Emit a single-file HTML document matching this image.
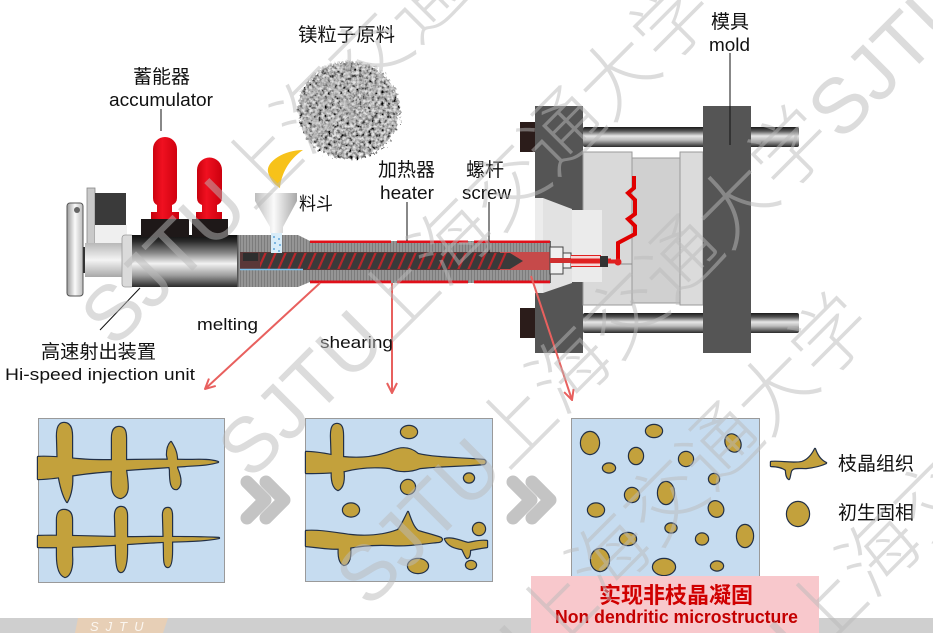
<!DOCTYPE html>
<html><head><meta charset="utf-8"><style>
html,body{margin:0;padding:0;background:#fff;width:933px;height:633px;overflow:hidden;}
svg{display:block;}
text{font-family:"Liberation Sans","Noto Sans CJK SC",sans-serif;}
</style></head><body>
<svg width="933" height="633" viewBox="0 0 933 633" xmlns="http://www.w3.org/2000/svg">
<defs>
 <linearGradient id="chrome" x1="0" y1="0" x2="0" y2="1">
  <stop offset="0" stop-color="#0e0e0e"/><stop offset="0.12" stop-color="#2a2a2a"/><stop offset="0.35" stop-color="#8a8a8a"/><stop offset="0.55" stop-color="#f2f2f2"/><stop offset="0.78" stop-color="#9c9c9c"/><stop offset="1" stop-color="#2a2a2a"/>
 </linearGradient>
 <linearGradient id="rod" x1="0" y1="0" x2="0" y2="1">
  <stop offset="0" stop-color="#1a1a1a"/><stop offset="0.2" stop-color="#555"/><stop offset="0.45" stop-color="#e6e6e6"/><stop offset="0.65" stop-color="#bdbdbd"/><stop offset="1" stop-color="#2a2a2a"/>
 </linearGradient>
 <linearGradient id="red" x1="0" y1="0" x2="1" y2="0">
  <stop offset="0" stop-color="#c4000c"/><stop offset="0.4" stop-color="#f01020"/><stop offset="1" stop-color="#cc000e"/>
 </linearGradient>
 <linearGradient id="funnel" x1="0" y1="0" x2="1" y2="0">
  <stop offset="0" stop-color="#bdbdbd"/><stop offset="0.45" stop-color="#fafafa"/><stop offset="1" stop-color="#a8a8a8"/>
 </linearGradient>
 <linearGradient id="lgray" x1="0" y1="0" x2="0" y2="1">
  <stop offset="0" stop-color="#b8b8b8"/><stop offset="0.5" stop-color="#f4f4f4"/><stop offset="1" stop-color="#a8a8a8"/>
 </linearGradient>
 <linearGradient id="flange" x1="0" y1="0" x2="1" y2="0">
  <stop offset="0" stop-color="#9a9a9a"/><stop offset="0.5" stop-color="#fafafa"/><stop offset="1" stop-color="#bbb"/>
 </linearGradient>
 <pattern id="vl" width="3" height="10" patternUnits="userSpaceOnUse">
  <rect width="3" height="10" fill="#959595"/><rect width="1" height="10" fill="#7c7c7c"/>
 </pattern>
 <clipPath id="screwclip"><polygon points="260,253 510,253 523,261 510,269 260,269"/></clipPath>
 <clipPath id="frame"><rect x="0" y="0" width="933" height="633"/></clipPath>
 <filter id="tex" x="-10%" y="-10%" width="120%" height="120%">
   <feTurbulence type="fractalNoise" baseFrequency="0.32" numOctaves="3" seed="7" result="n"/>
   <feDisplacementMap in="SourceGraphic" in2="n" scale="10" xChannelSelector="R" yChannelSelector="G" result="d"/>
   <feColorMatrix in="n" type="saturate" values="0" result="g"/>
   <feComponentTransfer in="g" result="g2">
     <feFuncR type="linear" slope="2.8" intercept="-0.85"/>
     <feFuncG type="linear" slope="2.8" intercept="-0.85"/>
     <feFuncB type="linear" slope="2.8" intercept="-0.85"/>
     <feFuncA type="linear" slope="0" intercept="1"/>
   </feComponentTransfer>
   <feBlend in="d" in2="g2" mode="multiply" result="b"/>
   <feComposite in="b" in2="d" operator="in"/>
 </filter>
 <marker id="ah" viewBox="0 0 12 12" refX="11" refY="6" markerWidth="12" markerHeight="12" orient="auto" markerUnits="userSpaceOnUse">
  <path d="M1,1 L11,6 L1,11" fill="none" stroke="#e8605e" stroke-width="2"/>
 </marker>
</defs>

<rect width="933" height="633" fill="#fff"/>

<!-- ===== Injection unit (left) ===== -->
<rect x="67" y="203" width="16" height="93" rx="3" fill="url(#flange)" stroke="#555" stroke-width="1"/>
<circle cx="77" cy="210" r="3" fill="#666"/>
<rect x="83" y="247" width="4" height="26" fill="#333"/>
<rect x="87" y="188" width="8" height="57" fill="#c9c9c9" stroke="#888" stroke-width="0.8"/>
<rect x="95" y="193" width="31" height="32" fill="#3a3a3a"/>
<rect x="95" y="225" width="32" height="18" fill="#efefef"/>
<rect x="85" y="243" width="48" height="34" fill="url(#lgray)"/>
<rect x="122" y="235" width="12" height="52" rx="3" fill="#dadada" stroke="#999" stroke-width="0.8"/>
<rect x="132" y="235" width="105" height="52" fill="url(#chrome)"/>
<rect x="141" y="219" width="48" height="18" fill="#1e1818"/>
<rect x="192" y="219" width="36" height="18" fill="#1e1818"/>
<path d="M153,149 A12,12 0 0 1 177,149 L177,198 Q177,203 172,205 L172,212 L179,212 L179,219 L151,219 L151,212 L157,212 L157,205 Q153,203 153,198 Z" fill="url(#red)"/>
<path d="M197,170 A12.5,12.5 0 0 1 222,170 L222,198 Q222,203 217,205 L217,212 L222,212 L222,219 L196,219 L196,212 L202,212 L202,205 Q197,203 197,198 Z" fill="url(#red)"/>

<!-- hopper -->
<path d="M255,193 L297,193 L297,201 L283,227 L283,233 L270,233 L270,227 L255,201 Z" fill="url(#funnel)"/>
<path d="M303,150 C285,150 266,161 268,172 C270,180 275,185 280,188 C281,175 288,160 303,150 Z" fill="#f7c21a"/>

<!-- Mg granules -->
<ellipse cx="349" cy="110" rx="51" ry="49" fill="#e4e4e4" filter="url(#tex)"/>

<!-- ===== Clamp / mold (right) ===== -->
<rect x="520" y="122" width="15" height="30" fill="#2b1c1a"/>
<rect x="520" y="308" width="15" height="30" fill="#2b1c1a"/>
<rect x="535" y="106" width="48" height="247" fill="#555"/>
<polygon points="535,198 543,198 572,209 572,283 543,293 535,293" fill="#e2e2e2"/>
<rect x="535" y="198" width="8" height="95" fill="#ececec"/>
<rect x="583" y="127" width="216" height="20" rx="2" fill="url(#rod)"/>
<rect x="583" y="313" width="216" height="20" rx="2" fill="url(#rod)"/>
<rect x="583" y="152" width="49" height="153" fill="#d9d9d9" stroke="#9a9a9a" stroke-width="1"/>
<rect x="632" y="158" width="48" height="145" fill="#d0d0d0" stroke="#9a9a9a" stroke-width="1"/>
<rect x="680" y="152" width="23" height="153" fill="#dbdbdb" stroke="#9a9a9a" stroke-width="1"/>
<line x1="617" y1="264" x2="632" y2="264" stroke="#8a8a8a" stroke-width="1"/>
<rect x="572" y="210" width="30" height="72" fill="#ebebeb"/>
<rect x="703" y="106" width="48" height="247" fill="#555"/>
<polyline points="634,176 634,188 628,193 635,200 635,214 628,219 635,226 635,234 618,243 618,262" fill="none" stroke="#e00000" stroke-width="4" stroke-linejoin="miter"/>

<!-- ===== Barrel ===== -->
<polygon points="237,235 298,235 310,241 310,282 298,287 237,287" fill="url(#vl)"/>
<rect x="237" y="235" width="1.5" height="52" fill="#555"/>
<rect x="310" y="241" width="240" height="42" fill="url(#vl)"/>
<rect x="550" y="241" width="1" height="42" fill="#666"/>
<g fill="#e0101a">
 <rect x="310" y="240.5" width="81" height="2.5"/><rect x="397" y="240.5" width="71" height="2.5"/><rect x="474" y="240.5" width="76" height="2.5"/>
 <rect x="310" y="280.5" width="81" height="2.8"/><rect x="397" y="280.5" width="71" height="2.8"/><rect x="474" y="280.5" width="76" height="2.8"/>
</g>
<rect x="240" y="252" width="310" height="18" fill="#5a3838"/>
<rect x="500" y="252" width="50" height="18" fill="#c64a4a"/>
<polygon points="260,253 510,253 523,261 510,269 260,269" fill="#3a3a3a"/>
<g clip-path="url(#screwclip)" stroke="#b8282c" stroke-width="2.2">
 <path d="M258,270 L266,252 M268,270 L276,252 M278,270 L286,252 M288,270 L296,252 M298,270 L306,252 M308,270 L316,252 M318,270 L326,252 M328,270 L336,252 M338,270 L346,252 M348,270 L356,252 M358,270 L366,252 M368,270 L376,252 M378,270 L386,252 M388,270 L396,252 M398,270 L406,252 M408,270 L416,252 M418,270 L426,252 M428,270 L436,252 M438,270 L446,252 M448,270 L456,252 M458,270 L466,252 M468,270 L476,252 M478,270 L486,252 M488,270 L496,252 M498,270 L506,252"/>
</g>
<rect x="243" y="253" width="15" height="8" fill="#2e2e2e"/>
<line x1="240" y1="269.5" x2="303" y2="269.5" stroke="#7cc0ea" stroke-width="1.5"/>
<rect x="271" y="233" width="11" height="20" fill="#d8ecf8"/>
<g fill="#3a90d0"><circle cx="274" cy="237" r="0.9"/><circle cx="279" cy="239" r="0.9"/><circle cx="275" cy="243" r="0.9"/><circle cx="280" cy="245" r="0.9"/><circle cx="274" cy="249" r="0.9"/><circle cx="279" cy="251" r="0.9"/></g>

<!-- nozzle & runner -->
<rect x="550" y="247" width="13" height="27" fill="#f0f0f0" stroke="#444" stroke-width="1"/>
<rect x="563" y="253" width="8" height="15" fill="#f0f0f0" stroke="#444" stroke-width="1"/>
<rect x="550" y="258" width="21" height="5" fill="#d03030"/>
<rect x="571" y="255" width="30" height="12" fill="#f6d6d6"/>
<line x1="571" y1="255.5" x2="601" y2="255.5" stroke="#e02020" stroke-width="1"/>
<line x1="571" y1="266.5" x2="601" y2="266.5" stroke="#e02020" stroke-width="1"/>
<rect x="571" y="258.5" width="40" height="5" fill="#e02020"/>
<rect x="600" y="256" width="8" height="11" fill="#333"/>
<line x1="608" y1="261.5" x2="618" y2="261.5" stroke="#e02020" stroke-width="4"/>
<circle cx="618" cy="262" r="3.5" fill="#e02020"/>

<!-- leader lines -->
<g stroke="#111" stroke-width="1">
 <line x1="161" y1="109" x2="161" y2="131"/>
 <line x1="407" y1="202" x2="407" y2="241"/>
 <line x1="489" y1="202" x2="489" y2="253"/>
 <line x1="730" y1="53" x2="730" y2="145"/>
 <line x1="140" y1="288" x2="100" y2="330"/>
</g>

<!-- red arrows -->
<g stroke="#e8605e" stroke-width="2" fill="none" marker-end="url(#ah)">
 <line x1="320" y1="283" x2="205" y2="389"/>
 <line x1="392" y1="283" x2="392" y2="393"/>
 <line x1="531" y1="276" x2="572" y2="400"/>
</g>

<!-- labels -->
<g fill="#111">
 <text x="298" y="41" font-size="19" textLength="97" lengthAdjust="spacingAndGlyphs">镁粒子原料</text>
 <text x="133" y="83" font-size="19" textLength="57" lengthAdjust="spacingAndGlyphs">蓄能器</text>
 <text x="109" y="106" font-size="18" textLength="104" lengthAdjust="spacingAndGlyphs">accumulator</text>
 <text x="299" y="210" font-size="18" textLength="34" lengthAdjust="spacingAndGlyphs">料斗</text>
 <text x="378" y="176" font-size="19" textLength="57" lengthAdjust="spacingAndGlyphs">加热器</text>
 <text x="380" y="199" font-size="18" textLength="54" lengthAdjust="spacingAndGlyphs">heater</text>
 <text x="466" y="176" font-size="19" textLength="38" lengthAdjust="spacingAndGlyphs">螺杆</text>
 <text x="462" y="199" font-size="18" textLength="49" lengthAdjust="spacingAndGlyphs">screw</text>
 <text x="711" y="28" font-size="19" textLength="38" lengthAdjust="spacingAndGlyphs">模具</text>
 <text x="709" y="51" font-size="18" textLength="41" lengthAdjust="spacingAndGlyphs">mold</text>
 <text x="197" y="330" font-size="17" textLength="61" lengthAdjust="spacingAndGlyphs">melting</text>
 <text x="320" y="348" font-size="17" textLength="73" lengthAdjust="spacingAndGlyphs">shearing</text>
 <text x="41" y="358" font-size="19" textLength="115" lengthAdjust="spacingAndGlyphs">高速射出装置</text>
 <text x="5" y="380" font-size="17" textLength="190" lengthAdjust="spacingAndGlyphs">Hi-speed injection unit</text>
 <text x="838" y="470" font-size="19" textLength="76" lengthAdjust="spacingAndGlyphs">枝晶组织</text>
 <text x="838" y="519" font-size="19" textLength="76" lengthAdjust="spacingAndGlyphs">初生固相</text>
</g>

<!-- ===== Microstructure boxes ===== -->
<rect x="38.5" y="418.5" width="186" height="164" fill="#c6dcf0" stroke="#9a9a9a" stroke-width="1"/>
<rect x="305.5" y="418.5" width="187" height="163" fill="#c6dcf0" stroke="#9a9a9a" stroke-width="1"/>
<rect x="571.5" y="418.5" width="188" height="164" fill="#c6dcf0" stroke="#9a9a9a" stroke-width="1"/>

<g fill="#223047" stroke="#223047" stroke-width="2.4" stroke-linejoin="round">
 <path d="M38,457 C55,456 70,459 90,460 C120,461 150,459 185,460 C198,460 208,459 218,462 C208,465 198,465 185,466 C150,468 125,470 100,472 C75,474 55,479 38,479 Z"/>
 <path d="M57,436 C57,426 60,423 64,423 C69,423 72,427 72,436 L72,472 C73,485 71,495 67,502 C63,496 60,485 58,472 Z"/>
 <path d="M112,438 C112,430 115,427 119,427 C124,427 126,430 126,438 L126,470 C128,485 130,495 121,498 C112,497 111,488 112,470 Z"/>
 <path d="M167,455 C167,448 169,444 171,442 C174,447 177,452 177,460 L177,468 C180,475 183,485 177,489 C171,490 170,482 170,470 Z"/>
 <path d="M38,536 C70,535 110,538 150,537 C180,537 200,537 219,538 C205,541 185,541 160,542 C120,544 80,548 38,547 Z"/>
 <path d="M57,520 C57,512 60,510 64,510 C69,510 72,513 72,520 L72,555 C73,568 70,576 65,577 C59,575 57,566 57,555 Z"/>
 <path d="M115,516 C115,509 118,507 121,507 C125,507 127,510 127,516 L127,550 C127,562 125,572 121,572 C117,572 116,562 116,550 Z"/>
 <path d="M163,515 C163,510 165,508 168,508 C171,508 172,511 172,516 L172,550 C172,560 171,567 168,567 C164,567 164,560 164,550 Z"/>
 <path d="M306,452 C318,452 330,455 342,457 C360,459 378,457 392,451 C401,447 410,447 418,454 C435,458 460,458 484,460 C486,461 486,463 484,464 C460,466 438,466 420,468 C410,472 398,472 390,468 C372,466 356,468 345,471 C330,473 318,473 306,473 Z"/>
 <path d="M331,436 C331,427 333,424 337,424 C341,424 343,427 343,436 L343,468 C345,480 343,488 338,490 C333,488 331,480 332,468 Z"/>
 <path d="M306,531 C320,530 335,533 350,535 C368,537 385,535 398,530 C402,525 405,518 408,512 C411,520 413,527 418,531 C428,534 436,536 441,538 C443,540 441,542 437,542 C420,544 405,546 392,545 C372,544 358,546 348,548 C333,550 318,547 306,546 Z"/>
 <path d="M339,545 C338,555 339,563 344,565 C350,564 351,555 350,546 Z"/>
 <path d="M445,539 C452,537 460,541 468,543 C474,542 480,540 487,541 L487,547 C480,548 474,549 470,550 C470,555 469,558 467,558 C465,556 464,552 462,549 C455,548 448,546 445,539 Z"/>
 <ellipse cx="409" cy="432" rx="8" ry="6"/><ellipse cx="408" cy="487" rx="7" ry="7"/><ellipse cx="469" cy="478" rx="5" ry="4.5"/>
 <ellipse cx="351" cy="510" rx="8" ry="6.5"/><ellipse cx="479" cy="529" rx="6" ry="6"/><ellipse cx="471" cy="565" rx="5" ry="4"/><ellipse cx="418" cy="566" rx="10" ry="7"/>
 <ellipse cx="590" cy="443" rx="9" ry="11"/><ellipse cx="654" cy="431" rx="8" ry="6"/><ellipse cx="733" cy="443" rx="7" ry="9" transform="rotate(-30 733 443)"/>
 <ellipse cx="636" cy="456" rx="7" ry="8"/><ellipse cx="686" cy="459" rx="7" ry="7"/><ellipse cx="609" cy="468" rx="6" ry="4.5"/>
 <ellipse cx="714" cy="479" rx="5" ry="5"/><ellipse cx="632" cy="495" rx="7" ry="7"/><ellipse cx="666" cy="493" rx="8" ry="11"/>
 <ellipse cx="596" cy="510" rx="8" ry="6.5"/><ellipse cx="716" cy="509" rx="7" ry="8" transform="rotate(-30 716 509)"/><ellipse cx="671" cy="528" rx="5.5" ry="4.5"/>
 <ellipse cx="628" cy="539" rx="8" ry="6"/><ellipse cx="702" cy="539" rx="6" ry="5.5"/><ellipse cx="745" cy="536" rx="8" ry="11"/>
 <ellipse cx="600" cy="560" rx="9" ry="11"/><ellipse cx="664" cy="567" rx="11" ry="8"/><ellipse cx="717" cy="566" rx="6" ry="4.5"/>
 <path d="M771,462 C780,461 792,464 802,462 C808,460 812,455 815,449 C817,455 820,460 826,463 C820,466 814,467 806,468 C798,468 793,467 791,471 C790,474 790,477 789,479 C787,478 786,474 786,470 C782,467 777,466 771,466 Z"/>
 <ellipse cx="798" cy="514" rx="11" ry="12"/>
</g>
<g fill="#c3a13c">
 <path d="M38,457 C55,456 70,459 90,460 C120,461 150,459 185,460 C198,460 208,459 218,462 C208,465 198,465 185,466 C150,468 125,470 100,472 C75,474 55,479 38,479 Z"/>
 <path d="M57,436 C57,426 60,423 64,423 C69,423 72,427 72,436 L72,472 C73,485 71,495 67,502 C63,496 60,485 58,472 Z"/>
 <path d="M112,438 C112,430 115,427 119,427 C124,427 126,430 126,438 L126,470 C128,485 130,495 121,498 C112,497 111,488 112,470 Z"/>
 <path d="M167,455 C167,448 169,444 171,442 C174,447 177,452 177,460 L177,468 C180,475 183,485 177,489 C171,490 170,482 170,470 Z"/>
 <path d="M38,536 C70,535 110,538 150,537 C180,537 200,537 219,538 C205,541 185,541 160,542 C120,544 80,548 38,547 Z"/>
 <path d="M57,520 C57,512 60,510 64,510 C69,510 72,513 72,520 L72,555 C73,568 70,576 65,577 C59,575 57,566 57,555 Z"/>
 <path d="M115,516 C115,509 118,507 121,507 C125,507 127,510 127,516 L127,550 C127,562 125,572 121,572 C117,572 116,562 116,550 Z"/>
 <path d="M163,515 C163,510 165,508 168,508 C171,508 172,511 172,516 L172,550 C172,560 171,567 168,567 C164,567 164,560 164,550 Z"/>
 <path d="M306,452 C318,452 330,455 342,457 C360,459 378,457 392,451 C401,447 410,447 418,454 C435,458 460,458 484,460 C486,461 486,463 484,464 C460,466 438,466 420,468 C410,472 398,472 390,468 C372,466 356,468 345,471 C330,473 318,473 306,473 Z"/>
 <path d="M331,436 C331,427 333,424 337,424 C341,424 343,427 343,436 L343,468 C345,480 343,488 338,490 C333,488 331,480 332,468 Z"/>
 <path d="M306,531 C320,530 335,533 350,535 C368,537 385,535 398,530 C402,525 405,518 408,512 C411,520 413,527 418,531 C428,534 436,536 441,538 C443,540 441,542 437,542 C420,544 405,546 392,545 C372,544 358,546 348,548 C333,550 318,547 306,546 Z"/>
 <path d="M339,545 C338,555 339,563 344,565 C350,564 351,555 350,546 Z"/>
 <path d="M445,539 C452,537 460,541 468,543 C474,542 480,540 487,541 L487,547 C480,548 474,549 470,550 C470,555 469,558 467,558 C465,556 464,552 462,549 C455,548 448,546 445,539 Z"/>
 <ellipse cx="409" cy="432" rx="8" ry="6"/><ellipse cx="408" cy="487" rx="7" ry="7"/><ellipse cx="469" cy="478" rx="5" ry="4.5"/>
 <ellipse cx="351" cy="510" rx="8" ry="6.5"/><ellipse cx="479" cy="529" rx="6" ry="6"/><ellipse cx="471" cy="565" rx="5" ry="4"/><ellipse cx="418" cy="566" rx="10" ry="7"/>
 <ellipse cx="590" cy="443" rx="9" ry="11"/><ellipse cx="654" cy="431" rx="8" ry="6"/><ellipse cx="733" cy="443" rx="7" ry="9" transform="rotate(-30 733 443)"/>
 <ellipse cx="636" cy="456" rx="7" ry="8"/><ellipse cx="686" cy="459" rx="7" ry="7"/><ellipse cx="609" cy="468" rx="6" ry="4.5"/>
 <ellipse cx="714" cy="479" rx="5" ry="5"/><ellipse cx="632" cy="495" rx="7" ry="7"/><ellipse cx="666" cy="493" rx="8" ry="11"/>
 <ellipse cx="596" cy="510" rx="8" ry="6.5"/><ellipse cx="716" cy="509" rx="7" ry="8" transform="rotate(-30 716 509)"/><ellipse cx="671" cy="528" rx="5.5" ry="4.5"/>
 <ellipse cx="628" cy="539" rx="8" ry="6"/><ellipse cx="702" cy="539" rx="6" ry="5.5"/><ellipse cx="745" cy="536" rx="8" ry="11"/>
 <ellipse cx="600" cy="560" rx="9" ry="11"/><ellipse cx="664" cy="567" rx="11" ry="8"/><ellipse cx="717" cy="566" rx="6" ry="4.5"/>
 <path d="M771,462 C780,461 792,464 802,462 C808,460 812,455 815,449 C817,455 820,460 826,463 C820,466 814,467 806,468 C798,468 793,467 791,471 C790,474 790,477 789,479 C787,478 786,474 786,470 C782,467 777,466 771,466 Z"/>
 <ellipse cx="798" cy="514" rx="11" ry="12"/>
</g>

<!-- chevrons -->
<g stroke="#c4c4c4" stroke-width="13" fill="none" stroke-linecap="round" stroke-linejoin="round">
 <polyline points="247,482 265,500 247,518"/><polyline points="266,482 284,500 266,518"/>
 <polyline points="513,482 531,500 513,518"/><polyline points="532,482 550,500 532,518"/>
</g>

<!-- footer -->
<rect x="0" y="618" width="933" height="15" fill="#cfcfcf"/>
<polygon points="75,633 78,618 168,618 163,633" fill="#e7cfb6"/>
<text x="90" y="631" font-size="13" font-style="italic" fill="#fbf6f0" letter-spacing="7">SJTU</text>

<rect x="531" y="576" width="288" height="57" fill="#f8c8cc"/>
<text x="599" y="603" font-size="22" font-weight="bold" fill="#d00000" textLength="154" lengthAdjust="spacingAndGlyphs">实现非枝晶凝固</text>
<text x="555" y="623" font-size="18" font-weight="bold" fill="#c40000" textLength="243" lengthAdjust="spacingAndGlyphs">Non dendritic microstructure</text>

<!-- watermark -->
<g clip-path="url(#frame)">
<g fill="rgb(185,185,185)" fill-opacity="0.5" font-size="78" font-weight="300">
 <text transform="translate(466,228) rotate(-45)" text-anchor="middle" dominant-baseline="central" textLength="663" lengthAdjust="spacingAndGlyphs">SJTU上海交通大学</text>
 <text transform="translate(329,96) rotate(-45)" text-anchor="middle" dominant-baseline="central" textLength="663" lengthAdjust="spacingAndGlyphs">SJTU上海交通大学</text>
 <text transform="translate(584,356) rotate(-45)" text-anchor="middle" dominant-baseline="central" textLength="663" lengthAdjust="spacingAndGlyphs">SJTU上海交通大学</text>
 <text transform="translate(1056,-111) rotate(-45)" text-anchor="middle" dominant-baseline="central" textLength="663" lengthAdjust="spacingAndGlyphs">SJTU上海交通大学</text>
 <text transform="translate(624,543) rotate(-45)" text-anchor="middle" dominant-baseline="central" textLength="663" lengthAdjust="spacingAndGlyphs">SJTU上海交通大学</text>
 <text transform="translate(894,539) rotate(-45)" text-anchor="middle" dominant-baseline="central" textLength="663" lengthAdjust="spacingAndGlyphs">SJTU上海交通大学</text>
</g>
</g>
</svg>
</body></html>
